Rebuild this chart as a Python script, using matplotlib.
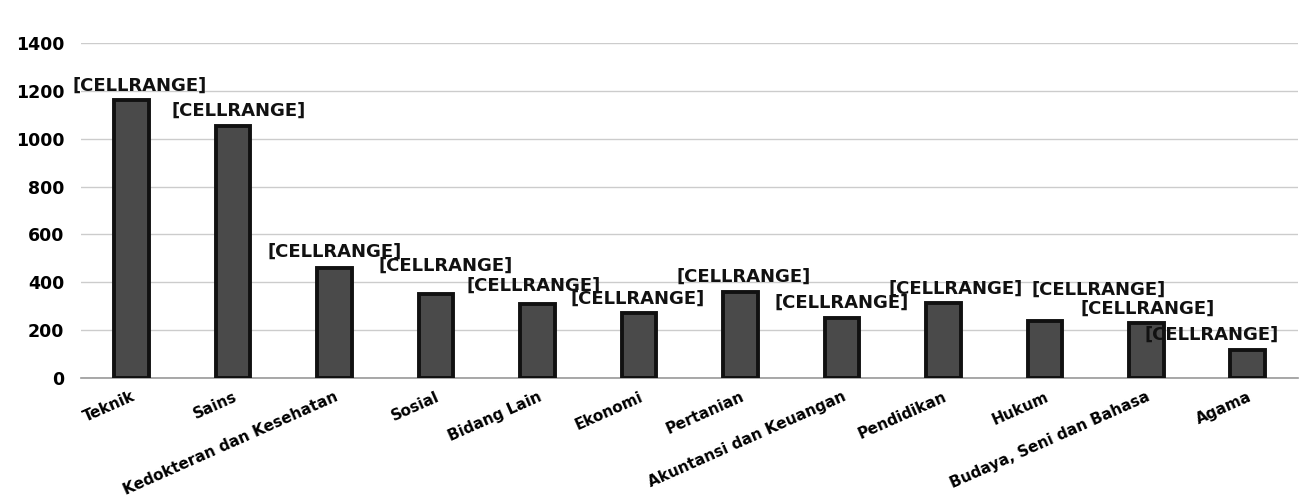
import matplotlib
matplotlib.use("Agg")
import matplotlib.pyplot as plt

categories = ["Teknik", "Sains", "Kedokteran dan Kesehatan", "Sosial", "Bidang Lain",
              "Ekonomi", "Pertanian", "Akuntansi dan Keuangan", "Pendidikan", "Hukum",
              "Budaya, Seni dan Bahasa", "Agama"]
values = [1160, 1055, 460, 350, 310, 270, 360, 250, 315, 240, 228, 115]
data_labels = ["[CELLRANGE]"] * len(values)
yticks = [0, 200, 400, 600, 800, 1000, 1200, 1400]

# label placement offsets (pixels) relative to each bar top (style, not data)
label_dx = [8, 6, 0, 10, -4, -1, 3, 0, 12, 54, 1, -36]
label_dy = [15, 15, 16, 28, 18, 15, 15, 15, 14, 31, 15, 16]

plt.rcParams['font.family'] = ['DejaVu Sans']

fig = plt.figure(figsize=(13.05, 5.03), dpi=100)
ax = fig.add_axes([0.062, 0.2485, 0.933, 0.666])

x = list(range(len(categories)))
ax.bar(x, values, width=0.34, color='#4a4a4a', edgecolor='#111111', linewidth=2.8, zorder=3)

for xi, v, lab, dx, dy in zip(x, values, data_labels, label_dx, label_dy):
    ax.annotate(lab, (xi, v), xytext=(dx, dy), textcoords='offset pixels',
                ha='center', va='center', fontsize=13, fontweight='bold', color='#111111', zorder=4)

ax.set_ylim(0, 1400)
ax.set_xlim(-0.5, 11.5)
ax.set_yticks(yticks)
ax.set_yticklabels([str(t) for t in yticks], fontsize=12.5, fontweight='bold')
ax.set_xticks(x)
ax.set_xticklabels(categories, rotation=24, ha='right', va='top', rotation_mode='anchor',
                   fontsize=11, fontweight='bold')
ax.tick_params(axis='x', length=0, pad=8)
ax.tick_params(axis='y', length=0, pad=12)
ax.grid(axis='y', color='#cccccc', linewidth=1, zorder=0)
for s in ['top', 'right', 'left']:
    ax.spines[s].set_visible(False)
ax.spines['bottom'].set_color('#999999')
ax.spines['bottom'].set_linewidth(1.2)

fig.savefig('out.png', dpi=100, facecolor='white')
